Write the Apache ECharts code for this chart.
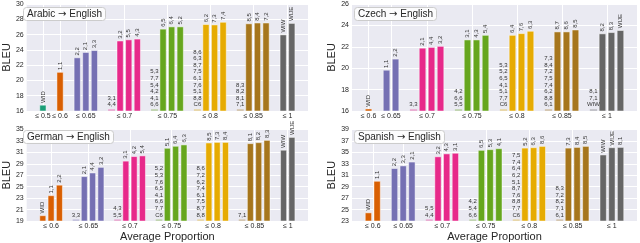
<!DOCTYPE html>
<html><head><meta charset="utf-8">
<script src="https://cdn.jsdelivr.net/npm/echarts@6/dist/echarts.min.js"></script>
<style>html,body{margin:0;padding:0;background:#fff}#c{width:640px;height:243px}</style>
</head><body><div id="c"></div>
<script>
const groupLabels = ['≤ 0.5','≤ 0.6','≤ 0.65','≤ 0.7','≤ 0.75','≤ 0.8','≤ 0.85','≤ 1'];
const groupColors = ['#1b9e77','#d95f02','#7570b3','#e7298a','#66a61e','#e6ab02','#a6761d','#666666'];

// Arabic -> English
const arabicGroups = [0,1,2,3,4,5,6,7];
const arabicNames = [['WID'],['1,1'],['2,2','2,1','3,3'],['3,2','5,5','4,3'],['6,5','6,4','5,2'],['6,2','7,3','7,4'],['8,5','8,4','7,2'],['WIW','WIJE']];
const arabicValues = [[16.8],[21.1],[23.0,23.7,23.95],[25.2,25.35,25.45],[26.75,27.05,27.05],[27.35,27.3,27.65],[27.45,27.55,27.55],[26.0,27.5]];
const arabicPale = [[],[],[],['3,1','4,4'],['5,3','7,7','5,4','4,2','4,1','6,6'],['8,6','6,3','8,7','7,5','6,1','7,6','5,1','8,8','C6'],['8,3','8,2','8,1','7,1'],[]];
const arabicPaleValue = 16.25;
const arabicTicks = [16,18,20,22,24,26,28,30];

// Czech -> English
const czechGroups = [1,2,3,4,5,6,7];
const czechNames = [['WID'],['1,1','2,2'],['2,1','4,4','3,2'],['3,1','4,3','5,4'],['6,4','7,6','6,3'],['8,7','8,6','8,5'],['8,2','8,3','WIJE']];
const czechValues = [[16.22],[19.84,20.88],[21.9,21.97,22.07],[22.67,22.67,23.1],[23.1,23.26,23.48],[23.42,23.42,23.6],[23.24,23.36,23.55]];
const czechPale = [[],[],['3,3'],['4,2','6,6','5,5'],['5,3','5,2','6,5','4,1','5,1','7,7','C6'],['7,3','8,4','7,2','7,5','7,4','6,2','8,8','6,1'],['8,1','7,1','WIW']];
const czechPaleValue = 16.18;
const czechTicks = [16,18,20,22,24,26];

// German -> English
const germanGroups = [1,2,3,4,5,6,7];
const germanNames = [['WID','1,1','2,2'],['2,1','4,4','3,2'],['3,1','4,2','5,4'],['5,1','6,4','6,3'],['8,5','7,3','8,4'],['8,1','8,2','8,3'],['WIW','WIJE']];
const germanValues = [[19.98,23.48,25.32],[26.82,27.45,28.43],[29.52,30.32,30.44],[31.77,32.12,32.36],[32.7,32.8,32.8],[32.58,32.75,33.15],[31.43,33.67]];
const germanPale = [[],['3,3'],['4,3','5,5'],['5,2','5,3','7,6','6,5','4,1','6,6','7,7','C6'],['8,6','7,2','6,2','7,4','6,1','7,5','8,7','8,8'],['7,1'],[]];
const germanPaleValue = 19.3;
const germanTicks = [19,21,23,25,27,29,31,33,35];

// Spanish -> English
const spanishGroups = [1,2,3,4,5,6,7];
const spanishNames = [['WID','1,1'],['2,2','3,3','2,1'],['3,2','4,3','3,1'],['6,5','5,3','4,1'],['5,2','6,3','8,6'],['7,3','8,4','8,5'],['WIW','WIJE','8,1']];
const spanishValues = [[24.48,30.0],[32.23,32.69,33.36],[34.28,34.79,34.9],[35.41,35.53,35.7],[35.8,35.87,36.1],[35.8,35.92,36.1],[34.6,35.87,35.92]];
const spanishPale = [[],[],['5,5','4,4'],['4,2','5,4','6,6'],['7,5','7,4','6,4','6,2','5,1','8,7','7,6','8,8','7,7','C6'],['8,3','7,2','8,2','7,1','6,1'],[]];
const spanishPaleValue = 23.3;
const spanishTicks = [23,25,27,29,31,33,35,37,39];

const FONT = 'Liberation Sans, Arial, DejaVu Sans, sans-serif';
const TXT = '#262626';

function fade(hex, a) {
  const r = parseInt(hex.slice(1,3),16), g = parseInt(hex.slice(3,5),16), b = parseInt(hex.slice(5,7),16);
  return 'rgba(' + r + ',' + g + ',' + b + ',' + a + ')';
}

const panels = [
  {src:'Arabic', groups:arabicGroups, names:arabicNames, values:arabicValues, pale:arabicPale, paleValue:arabicPaleValue, ticks:arabicTicks,
   grid:{left:20, top:4, width:288, height:107}, titlePos:{left:23, top:7}, xname:''},
  {src:'Czech', groups:czechGroups, names:czechNames, values:czechValues, pale:czechPale, paleValue:czechPaleValue, ticks:czechTicks,
   grid:{left:352, top:4, width:285, height:107}, titlePos:{left:354, top:7}, xname:''},
  {src:'German', groups:germanGroups, names:germanNames, values:germanValues, pale:germanPale, paleValue:germanPaleValue, ticks:germanTicks,
   grid:{left:20, top:129.5, width:288, height:93.2}, titlePos:{left:23, top:130}, xname:'Average Proportion'},
  {src:'Spanish', groups:spanishGroups, names:spanishNames, values:spanishValues, pale:spanishPale, paleValue:spanishPaleValue, ticks:spanishTicks,
   grid:{left:352, top:129.5, width:285, height:93.2}, titlePos:{left:354, top:130}, xname:'Average Proportion'}
];

const option = {animation:false, backgroundColor:'#fff', textStyle:{fontFamily:FONT},
  grid:[], xAxis:[], yAxis:[], series:[], title:[]};

panels.forEach((p, idx) => {
  let slot = 0;
  const data = [];
  const centers = [];
  const labelMap = {};
  p.groups.forEach((g, gi) => {
    if (gi > 0) slot += 1;
    const start = slot;
    if (p.pale[gi].length) {
      data.push({value:[slot, p.paleValue],
        itemStyle:{color:fade(groupColors[g], 0.3), borderWidth:0},
        label:{show:true, position:'top', rotate:0, align:'center', verticalAlign:'bottom',
          formatter:p.pale[gi].join('\n'), lineHeight:6.6, distance:1}});
      slot++;
    }
    p.values[gi].forEach((v, k) => {
      data.push({value:[slot, v], itemStyle:{color:groupColors[g]},
        label:{show:true, position:'top', rotate:90, align:'left', verticalAlign:'middle',
          formatter:p.names[gi][k], distance:2}});
      slot++;
    });
    const c = (start + slot - 1) / 2;
    centers.push(c);
    labelMap[String(c)] = groupLabels[g];
  });
  const n = slot;
  const pad = 0.05 * (n - 1 + 0.8);
  option.grid.push(Object.assign({show:true, backgroundColor:'#EAEAF2', borderWidth:0}, p.grid));
  option.title.push(Object.assign({text:p.src + ' {a|→} English', padding:[2,4,2,4],
    backgroundColor:'rgba(255,255,255,0.85)', borderColor:'#cccccc', borderWidth:1, borderRadius:3,
    textStyle:{fontSize:10, fontWeight:'normal', color:TXT, fontFamily:FONT,
      rich:{a:{fontSize:10, color:TXT, fontFamily:'DejaVu Sans'}}}}, p.titlePos));
  option.xAxis.push({gridIndex:idx, type:'value', min:-0.4 - pad, max:n - 1 + 0.4 + pad,
    axisLine:{show:false}, axisTick:{show:false, customValues:centers},
    axisLabel:{customValues:centers, fontSize:7, color:TXT, margin:2, fontFamily:FONT,
      formatter:(v) => labelMap[String(v)] || ''},
    splitLine:{show:true, lineStyle:{color:'#ffffff', width:1}},
    name:p.xname, nameLocation:'middle', nameGap:10,
    nameTextStyle:{fontSize:11, color:TXT, fontFamily:FONT}});
  option.yAxis.push({gridIndex:idx, type:'value', min:p.ticks[0], max:p.ticks[p.ticks.length-1],
    axisLine:{show:false}, axisTick:{show:false, customValues:p.ticks},
    axisLabel:{customValues:p.ticks, fontSize:7, color:TXT, margin:3, fontFamily:FONT},
    splitLine:{show:true, lineStyle:{color:'#ffffff', width:1}},
    name:'BLEU', nameLocation:'middle', nameGap:12, nameRotate:90,
    nameTextStyle:{fontSize:11, color:TXT, fontFamily:FONT}});
  option.series.push({type:'bar', xAxisIndex:idx, yAxisIndex:idx, barWidth:'80%',
    itemStyle:{borderColor:'rgba(255,255,255,0.8)', borderWidth:0.6},
    label:{fontSize:6, color:'#333333', fontFamily:FONT},
    data:data});
});

const chart = echarts.init(document.getElementById('c'), null, {renderer:'canvas'});
chart.setOption(option);
</script>
</body></html>
